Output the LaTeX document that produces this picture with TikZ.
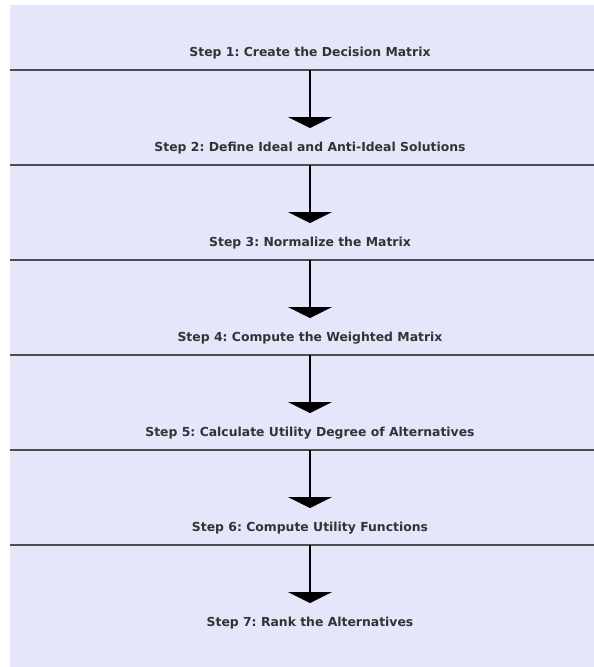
\documentclass[tikz,border=0pt]{standalone}
\usepackage{fontspec}
\setmainfont{DejaVu Sans}
\usetikzlibrary{arrows.meta,positioning}
\definecolor{panelbg}{HTML}{E6E6FA}
\definecolor{labelgray}{HTML}{333333}
\definecolor{rulegray}{HTML}{4D4D4D}
\frenchspacing

\begin{document}
\begin{tikzpicture}[x=1pt, y=-1pt]
\tikzstyle{steplabel}=[anchor=base, inner sep=0pt, font=\bfseries\fontsize{12.4}{14}\selectfont, text=labelgray]
\tikzstyle{divider}=[line width=1.6pt, draw=rulegray]
\tikzstyle{flow}=[line width=1.4pt, draw=black, -{Triangle[width=44pt, length=11pt]}]
\useasboundingbox (0,0) rectangle (594,667);
\fill[panelbg] (10,5) rectangle (594,667);
%%
\node (s1) at (310,56) [steplabel] {Step 1: Create the Decision Matrix};
\node (s2) at (310,151) [steplabel] {Step 2: Define Ideal and Anti-Ideal Solutions};
\node (s3) at (310,246) [steplabel] {Step 3: Normalize the Matrix};
\node (s4) at (310,341) [steplabel] {Step 4: Compute the Weighted Matrix};
\node (s5) at (310,436) [steplabel] {Step 5: Calculate Utility Degree of Alternatives};
\node (s6) at (310,531) [steplabel] {Step 6: Compute Utility Functions};
\node (s7) at (310,626) [steplabel] {Step 7: Rank the Alternatives};

\draw[divider] (10,70) -- (594,70);
\draw[divider] (10,165) -- (594,165);
\draw[divider] (10,260) -- (594,260);
\draw[divider] (10,355) -- (594,355);
\draw[divider] (10,450) -- (594,450);
\draw[divider] (10,545) -- (594,545);

\coordinate (d1) at (310,70);
\coordinate (d2) at (310,165);
\coordinate (d3) at (310,260);
\coordinate (d4) at (310,355);
\coordinate (d5) at (310,450);
\coordinate (d6) at (310,545);

\coordinate (t2) at (310,128);
\coordinate (t3) at (310,223);
\coordinate (t4) at (310,318);
\coordinate (t5) at (310,413);
\coordinate (t6) at (310,508);
\coordinate (t7) at (310,603);

\draw[flow] (d1) -- (t2);
\draw[flow] (d2) -- (t3);
\draw[flow] (d3) -- (t4);
\draw[flow] (d4) -- (t5);
\draw[flow] (d5) -- (t6);
\draw[flow] (d6) -- (t7);
\end{tikzpicture}
\end{document}
